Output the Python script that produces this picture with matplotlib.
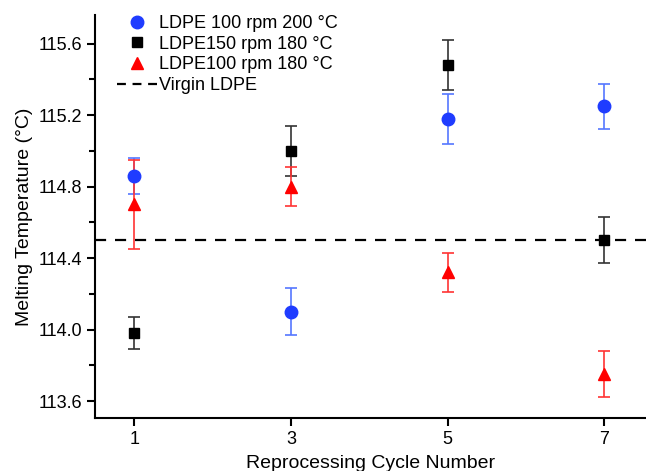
import matplotlib
matplotlib.use("Agg")
import matplotlib.pyplot as plt
from matplotlib.ticker import MultipleLocator, FormatStrFormatter
from matplotlib.lines import Line2D

plt.rcParams['font.family'] = ['Liberation Sans', 'DejaVu Sans']

cycles = [1, 3, 5, 7]

# LDPE 100 rpm 200 C
blue_tm = [114.86, 114.10, 115.18, 115.25]
blue_err = [0.10, 0.13, 0.14, 0.125]

# LDPE 150 rpm 180 C
black_tm = [113.98, 115.00, 115.48, 114.50]
black_err = [0.09, 0.14, 0.14, 0.13]

# LDPE 100 rpm 180 C
red_tm = [114.70, 114.80, 114.32, 113.75]
red_err = [0.25, 0.11, 0.11, 0.13]

virgin_tm = 114.5

labels = ['LDPE 100 rpm 200 °C', 'LDPE150 rpm 180 °C', 'LDPE100 rpm 180 °C', 'Virgin LDPE']

fig = plt.figure(figsize=(6.46, 4.71), dpi=100)
ax = fig.add_axes([0.147, 0.1125, 0.853, 0.8555])

ax.errorbar(cycles, blue_tm, yerr=blue_err, fmt='o', color='#1f3cff', ecolor='#5577ff',
            markersize=9, capsize=4, elinewidth=1.2, capthick=1.2, zorder=3)
ax.errorbar(cycles, black_tm, yerr=black_err, fmt='s', color='black', ecolor='#333333',
            markersize=7, capsize=4, elinewidth=1.2, capthick=1.2, zorder=3)
ax.errorbar(cycles, red_tm, yerr=red_err, fmt='^', color='red', ecolor='#ff3333',
            markersize=9, capsize=4, elinewidth=1.2, capthick=1.2, zorder=3)
ax.axhline(virgin_tm, color='black', linestyle=(0, (5, 4)), linewidth=1.6, zorder=2)

ax.set_xlim(0.5, 7.53)
ax.set_ylim(113.505, 115.76)
ax.set_xticks(cycles)
ax.yaxis.set_major_locator(MultipleLocator(0.4))
ax.yaxis.set_minor_locator(MultipleLocator(0.2))
ax.yaxis.set_major_formatter(FormatStrFormatter('%.1f'))

for s in ['top', 'right']:
    ax.spines[s].set_visible(False)
for s in ['left', 'bottom']:
    ax.spines[s].set_linewidth(1.5)
ax.tick_params(axis='both', which='major', direction='out', length=6, width=1.5, labelsize=13)
ax.tick_params(axis='y', which='minor', direction='out', length=4, width=1.5)

ax.set_xlabel('Reprocessing Cycle Number', fontsize=14, labelpad=5)
ax.set_ylabel('Melting Temperature (°C)', fontsize=14, labelpad=4)

handles = [
    Line2D([], [], marker='o', color='#1f3cff', linestyle='none', markersize=9),
    Line2D([], [], marker='s', color='black', linestyle='none', markersize=7),
    Line2D([], [], marker='^', color='red', linestyle='none', markersize=9),
    Line2D([], [], color='black', linestyle=(0, (4, 3)), linewidth=1.6),
]
ax.legend(handles, labels, loc='upper left', bbox_to_anchor=(0.04, 1.0), frameon=False,
          fontsize=13, handlelength=2.2, handletextpad=0.15, labelspacing=0.2,
          borderaxespad=0, borderpad=0)

fig.savefig('out.png', dpi=100)
